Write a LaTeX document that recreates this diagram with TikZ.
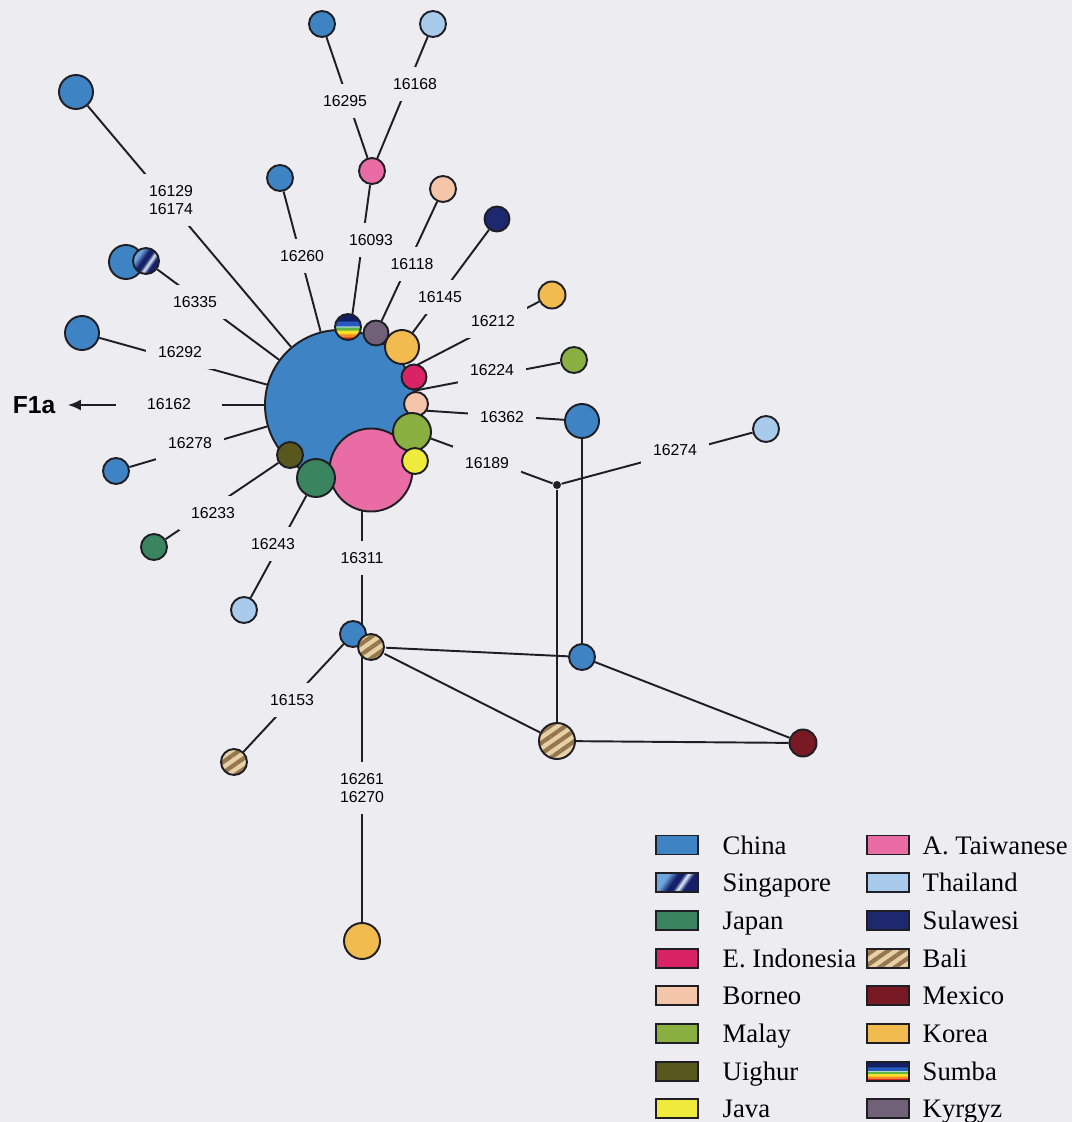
\documentclass[tikz,border=0pt]{standalone}
\usepackage{fontspec}
\setmainfont{Liberation Serif}
\setsansfont{Liberation Sans}
\usepackage{xcolor}
\usepackage{tikz}
\usetikzlibrary{arrows.meta,patterns.meta}

\definecolor{paper}{RGB}{237,236,240}
\definecolor{ink}{RGB}{30,30,36}
\definecolor{cChina}{RGB}{62,132,196}
\definecolor{cTaiwan}{RGB}{233,108,165}
\definecolor{cJapan}{RGB}{58,132,96}
\definecolor{cEIndo}{RGB}{216,35,100}
\definecolor{cBorneo}{RGB}{245,197,170}
\definecolor{cMalay}{RGB}{137,176,64}
\definecolor{cUighur}{RGB}{88,88,30}
\definecolor{cJava}{RGB}{240,234,60}
\definecolor{cThai}{RGB}{168,203,235}
\definecolor{cSulawesi}{RGB}{30,40,110}
\definecolor{cMexico}{RGB}{120,25,35}
\definecolor{cKorea}{RGB}{242,187,80}
\definecolor{cKyrgyz}{RGB}{112,96,120}
\definecolor{baliLight}{RGB}{230,208,166}
\definecolor{baliDark}{RGB}{150,118,78}
\definecolor{smRed}{RGB}{220,40,40}
\definecolor{smOrange}{RGB}{245,140,40}
\definecolor{smYellow}{RGB}{250,225,40}
\definecolor{smGreen}{RGB}{90,180,70}
\definecolor{smLight}{RGB}{200,230,240}
\definecolor{smBlue}{RGB}{40,90,190}
\definecolor{smNavy}{RGB}{20,30,100}
\definecolor{sgLight}{RGB}{110,165,220}
\definecolor{sgNavy}{RGB}{22,32,105}
\definecolor{sgWhite}{RGB}{225,238,250}

% striped flag-like fills
\pgfdeclareverticalshading{sumba}{100bp}{color(0bp)=(smRed); color(30bp)=(smRed);
  color(32bp)=(smOrange); color(36bp)=(smOrange); color(38bp)=(smYellow); color(43bp)=(smYellow);
  color(45bp)=(smGreen); color(49bp)=(smGreen); color(51bp)=(smLight); color(53bp)=(smBlue);
  color(60bp)=(smBlue); color(63bp)=(smNavy); color(100bp)=(smNavy)}
\pgfdeclarehorizontalshading{singapore}{100bp}{color(0bp)=(sgLight); color(32bp)=(sgLight);
  color(44bp)=(sgNavy); color(51bp)=(sgNavy); color(57bp)=(sgWhite); color(64bp)=(sgNavy);
  color(100bp)=(sgNavy)}

\pgfdeclarelayer{bg}
\pgfdeclarelayer{links}
\pgfsetlayers{bg,links,main}

\begin{document}
\begin{tikzpicture}[x=0.1mm,y=-0.1mm,
  hap/.style={circle,draw=ink,line width=0.55pt,inner sep=0pt,minimum size=#1*0.1mm},
  china/.style={hap=#1,fill=cChina},
  taiwan/.style={hap=#1,fill=cTaiwan},
  japan/.style={hap=#1,fill=cJapan},
  eindo/.style={hap=#1,fill=cEIndo},
  borneo/.style={hap=#1,fill=cBorneo},
  malay/.style={hap=#1,fill=cMalay},
  uighur/.style={hap=#1,fill=cUighur},
  java/.style={hap=#1,fill=cJava},
  thai/.style={hap=#1,fill=cThai},
  sulawesi/.style={hap=#1,fill=cSulawesi},
  mexico/.style={hap=#1,fill=cMexico},
  korea/.style={hap=#1,fill=cKorea},
  kyrgyz/.style={hap=#1,fill=cKyrgyz},
  sumba/.style={hap=#1,shading=sumba},
  sing/.style={hap=#1,shading=singapore,shading angle=-35},
  bali/.style={hap=#1,preaction={fill=baliLight},
    pattern={Lines[angle=35,distance=2.5pt,line width=1.2pt]},pattern color=baliDark},
  link/.style={draw=ink,line width=0.55pt},
  mut/.style={fill=paper,font=\sffamily\fontsize{4.5}{5.2}\selectfont,
    inner xsep=1.2mm,inner ysep=1.1mm,align=center},
  keybox/.style={rectangle,minimum width=4.2mm,minimum height=1.9mm},
  keytext/.style={font=\fontsize{7.6}{9}\selectfont,inner sep=0pt,anchor=base west}]

  \begin{pgfonlayer}{bg}
    \fill[paper] (0,0) rectangle (1072,1122);
  \end{pgfonlayer}
  \useasboundingbox (0,0) rectangle (1072,1122);

  % central cluster
  \node[china=150] (hub) at (340,405) {};
  \node[taiwan=83] (pinkL) at (371,470) {};
  \node[sumba=26] (sumba) at (348,327) {};
  \node[kyrgyz=25] (kyrg) at (376,333) {};
  \node[korea=34] (koreaA) at (402,347) {};
  \node[eindo=25] (eindo) at (414,377) {};
  \node[borneo=24] (borneoA) at (416,404) {};
  \node[malay=38] (malayA) at (412,432) {};
  \node[java=26] (java) at (415,461) {};
  \node[uighur=26] (uighur) at (290,455) {};
  \node[japan=38] (japanA) at (316,478) {};

  % outer haplotypes
  \node[china=26] (topBlue) at (322,24) {};
  \node[thai=26] (topThai) at (433,24) {};
  \node[taiwan=26] (pinkS) at (372,171) {};
  \node[china=34] (tlBlue) at (76,92) {};
  \node[china=26] (blue260) at (280,178) {};
  \node[borneo=26] (peach) at (443,189) {};
  \node[sulawesi=25] (navy) at (497,219) {};
  \node[china=34] (pairBlue) at (126,262) {};
  \node[sing=26] (sing) at (146,261) {};
  \node[china=34] (blue292) at (82,333) {};
  \node[korea=27] (koreaB) at (552,295) {};
  \node[malay=26] (malayB) at (574,360) {};
  \node[china=34] (blue362) at (582,421) {};
  \node[thai=26] (thai274) at (766,429) {};
  \node[china=26] (blue278) at (116,471) {};
  \node[japan=26] (japanB) at (154,547) {};
  \node[thai=26] (thai243) at (244,610) {};
  \node[circle,fill=ink,inner sep=0pt,minimum size=0.8mm] (junc) at (557,485) {};

  % lower network
  \node[china=26] (blueLow) at (353,634) {};
  \node[bali=26] (bali1) at (371,647) {};
  \node[china=26] (blueMid) at (582,657) {};
  \node[bali=36] (bali2) at (557,741) {};
  \node[mexico=27] (mexico) at (803,743) {};
  \node[bali=26] (bali3) at (234,762) {};
  \node[korea=36] (koreaC) at (362,941) {};

  \node[font=\sffamily\bfseries\fontsize{7}{8}\selectfont,inner sep=0pt] (f1a) at (34,405) {F1a};

  \begin{pgfonlayer}{links}
    \draw[link] (topBlue) -- (pinkS);
    \draw[link] (topThai) -- (pinkS);
    \draw[link] (pinkS) -- (hub);
    \draw[link] (tlBlue) -- (hub);
    \draw[link] (blue260) -- (hub);
    \draw[link] (peach) -- (kyrg);
    \draw[link] (navy) -- (koreaA);
    \draw[link] (sing) -- (hub);
    \draw[link] (blue292) -- (hub);
    \draw[link,-{Latex[length=1.3mm,width=1.1mm]},shorten >=1.2mm] (hub) -- (f1a);
    \draw[link] (blue278) -- (hub);
    \draw[link] (japanB) -- (uighur);
    \draw[link] (thai243) -- (japanA);
    \draw[link] (koreaB) -- (hub);
    \draw[link] (malayB) -- (hub);
    \draw[link] (blue362) -- (hub);
    \draw[link] (junc) -- (hub);
    \draw[link] (junc) -- (thai274);
    \draw[link] (junc) -- (bali2);
    \draw[link] (blue362) -- (blueMid);
    \draw[link] (pinkL.center -| koreaC) -- (koreaC);
    \draw[link] (blueLow) -- (bali3);
    \draw[link] (bali1) -- (blueMid);
    \draw[link] (bali1) -- (bali2);
    \draw[link] (blueMid) -- (mexico);
    \draw[link] (bali2) -- (mexico);
  \end{pgfonlayer}

  % mutation labels
  \node[mut] (m16295) at (345,101) {16295};
  \node[mut] (m16168) at (415,84) {16168};
  \node[mut] (m16129) at (171,200) {16129\\16174};
  \node[mut] (m16260) at (302,256) {16260};
  \node[mut] (m16093) at (371,240) {16093};
  \node[mut] (m16118) at (412,264) {16118};
  \node[mut] (m16145) at (440,297) {16145};
  \node[mut] (m16335) at (195,302) {16335};
  \node[mut] (m16212) at (493,321) {16212};
  \node[mut] (m16292) at (180,352) {16292};
  \node[mut] (m16224) at (492,370) {16224};
  \node[mut,inner xsep=3.1mm] (m16162) at (169,404) {16162};
  \node[mut] (m16362) at (502,417) {16362};
  \node[mut] (m16278) at (190,443) {16278};
  \node[mut] (m16189) at (487,463) {16189};
  \node[mut] (m16274) at (675,450) {16274};
  \node[mut] (m16233) at (213,513) {16233};
  \node[mut] (m16243) at (273,544) {16243};
  \node[mut] (m16311) at (362,558) {16311};
  \node[mut] (m16153) at (292,700) {16153};
  \node[mut] (m16261) at (362,788) {16261\\16270};

  % legend
  \foreach \name/\kind [count=\i from 0] in {China/china,Singapore/sing,Japan/japan,
      E. Indonesia/eindo,Borneo/borneo,Malay/malay,Uighur/uighur,Java/java}{
    \node[\kind=0,keybox] (boxL\i) at (677,845+\i*37.7) {};
    \node[keytext] (keyL\i) at (722,845+\i*37.7+9) {\name};
  }
  \foreach \name/\kind [count=\i from 0] in {A. Taiwanese/taiwan,Thailand/thai,Sulawesi/sulawesi,
      Bali/bali,Mexico/mexico,Korea/korea,Sumba/sumba,Kyrgyz/kyrgyz}{
    \node[\kind=0,keybox] (boxR\i) at (888,845+\i*37.7) {};
    \node[keytext] (keyR\i) at (922,845+\i*37.7+9) {\name};
  }
\end{tikzpicture}
\end{document}
